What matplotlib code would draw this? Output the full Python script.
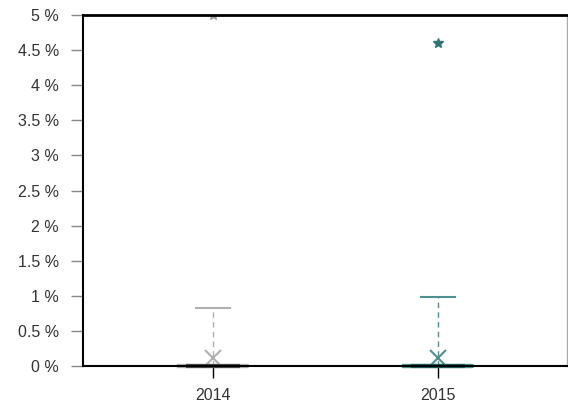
import matplotlib
matplotlib.use('Agg')
import matplotlib.pyplot as plt

plt.rcParams['font.family'] = ['Liberation Sans', 'DejaVu Sans']

years = ['2014', '2015']
q1 = [0.0, 0.0]
median = [0.0, 0.0]
q3 = [0.0, 0.0]
whisker_low = [0.0, 0.0]
whisker_high = [0.82, 0.98]
means = [0.12, 0.12]
outliers = [[5.0], [4.6]]

light = ['#b0b0b0', '#4f9090']
dark = ['#484848', '#1d5a5a']
star = ['#a0a0a0', '#2f7575']

fig = plt.figure(figsize=(5.68, 4.12), dpi=100)
ax = fig.add_axes([83 / 568, 1 - 366 / 412, 484 / 568, 351 / 412])

for i, y in enumerate(years):
    stats = [{'med': median[i], 'q1': q1[i], 'q3': q3[i],
              'whislo': whisker_low[i], 'whishi': whisker_high[i],
              'mean': means[i], 'fliers': outliers[i], 'label': y}]
    parts = ax.bxp(stats, positions=[i], widths=0.3, showmeans=True,
                   boxprops=dict(color=light[i], linewidth=3),
                   medianprops=dict(color=dark[i], linewidth=3),
                   whiskerprops=dict(color=light[i], linewidth=1, linestyle=(0, (4, 3))),
                   capprops=dict(color=light[i], linewidth=1.5),
                   capwidths=0.15,
                   meanprops=dict(marker='x', markeredgecolor=light[i], markersize=11,
                                  markeredgewidth=1.5),
                   flierprops=dict(marker='*', markerfacecolor=star[i],
                                   markeredgecolor=star[i], markersize=7))
    for ln in parts['boxes'] + parts['medians']:
        ln.set_clip_on(False)
        ln.set_zorder(3)
    parts['medians'][0].set_xdata([i - 0.12, i + 0.12])

ax.set_xlim(-0.577, 1.574)
ax.set_ylim(0, 5)
ax.set_xticks(range(len(years)))
ax.set_xticklabels(years, fontsize=11.5, color='#333333')
yt = [0, 0.5, 1, 1.5, 2, 2.5, 3, 3.5, 4, 4.5, 5]
ax.set_yticks(yt)
ax.set_yticklabels(['%g %%' % v for v in yt], fontsize=11.5, color='#333333')
ax.tick_params(axis='y', length=8.6, width=1, color='#888888', pad=8.6)
ax.tick_params(axis='x', length=8.6, width=1, color='black', pad=7)

ax.spines['left'].set_linewidth(1.5)
ax.spines['top'].set_linewidth(2)
ax.spines['bottom'].set_linewidth(1.5)
ax.spines['right'].set_color('#aaaaaa')
ax.spines['right'].set_linewidth(1)
for s in ax.spines.values():
    s.set_zorder(4)

fig.savefig('out.png', dpi=100)
